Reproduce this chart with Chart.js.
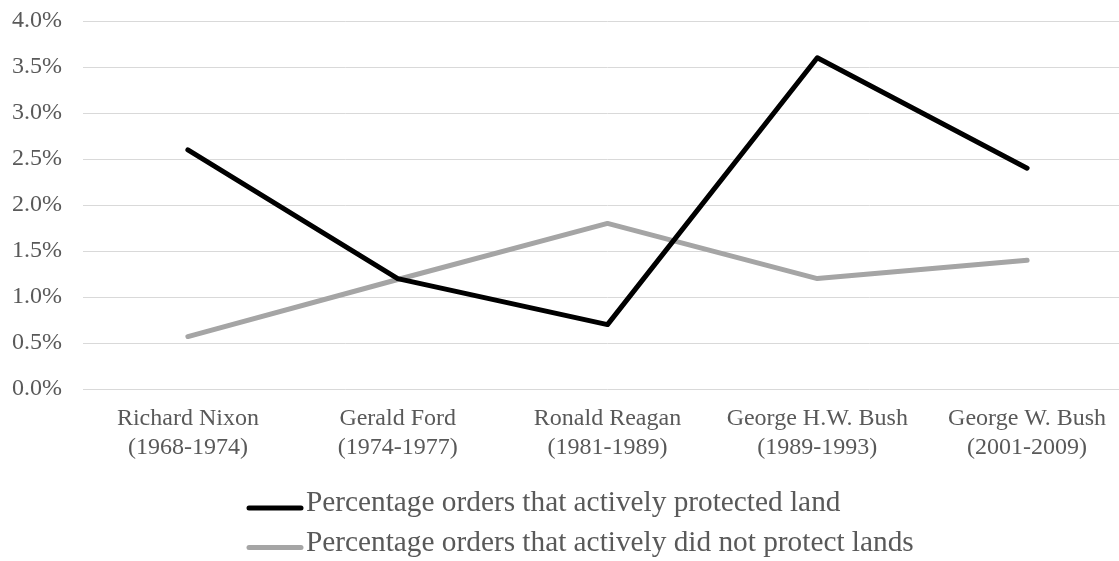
<!DOCTYPE html>
<html>
<head>
<meta charset="utf-8">
<script src="https://cdn.jsdelivr.net/npm/chart.js@4/dist/chart.umd.min.js"></script>
<style>
    html, body { margin: 0; padding: 0; background: #fff; overflow: hidden; }
    #wrap { width: 1132px; height: 561px; }
</style>
</head>
<body>
<div id="wrap"><canvas id="chart" width="1132" height="561"></canvas></div>
<script>
// Data
const presidents = [
    ['Richard Nixon', '(1968-1974)'],
    ['Gerald Ford', '(1974-1977)'],
    ['Ronald Reagan', '(1981-1989)'],
    ['George H.W. Bush', '(1989-1993)'],
    ['George W. Bush', '(2001-2009)']
];
const protectedPct = [2.6, 1.2, 0.7, 3.6, 2.4];
const notProtectedPct = [0.57, 1.19, 1.8, 1.2, 1.4];
const seriesLabels = [
    'Percentage orders that actively protected land',
    'Percentage orders that actively did not protect lands'
];
const yMin = 0;
const yMax = 4;
const yStep = 0.5;

const TEXT_COLOR = '#595959';
const GRID_COLOR = '#D9D9D9';
const FONT_FAMILY = '"Liberation Serif", "Times New Roman", serif';

/**
 * Excel style legend: one row per series, rows left aligned
 */
const stackedLegend = {
    id: 'stackedLegend',
    afterDraw(chart, args, opts) {
        const ctx = chart.ctx;
        ctx.save();
        ctx.font = opts.fontSize + 'px ' + FONT_FAMILY;
        ctx.textBaseline = 'alphabetic';
        ctx.textAlign = 'left';
        chart.data.datasets.forEach((ds, i) => {
            const y = opts.top + i * opts.rowHeight;
            ctx.strokeStyle = ds.borderColor;
            ctx.lineWidth = ds.borderWidth;
            ctx.lineCap = 'round';
            ctx.beginPath();
            ctx.moveTo(opts.left, y);
            ctx.lineTo(opts.left + opts.lineLength, y);
            ctx.stroke();
            ctx.fillStyle = TEXT_COLOR;
            ctx.fillText(ds.label, opts.left + opts.lineLength + opts.gap, y + opts.baselineShift);
        });
        ctx.restore();
    }
};

const el = document.getElementById('chart');
el._chart = new Chart(el.getContext('2d'), {
    type: 'line',
    data: {
        labels: presidents,
        datasets: [
            {
                label: seriesLabels[0],
                data: protectedPct,
                borderColor: '#000000',
                backgroundColor: '#000000',
                borderWidth: 5
            },
            {
                label: seriesLabels[1],
                data: notProtectedPct,
                borderColor: '#A5A5A5',
                backgroundColor: '#A5A5A5',
                borderWidth: 5
            }
        ]
    },
    options: {
        responsive: false,
        animation: false,
        layout: {
            padding: { top: 21, left: 0, right: 0, bottom: 0 }
        },
        elements: {
            point: { radius: 0, hoverRadius: 0 },
            line: { tension: 0, borderCapStyle: 'round', borderJoinStyle: 'round' }
        },
        plugins: {
            legend: { display: false },
            tooltip: { enabled: false },
            stackedLegend: {
                left: 249,
                top: 508,
                rowHeight: 39.5,
                lineLength: 52,
                gap: 5,
                baselineShift: 3,
                fontSize: 29.3
            }
        },
        scales: {
            x: {
                offset: true,
                grid: { display: false, drawTicks: false },
                border: { display: false },
                ticks: {
                    color: TEXT_COLOR,
                    font: { family: FONT_FAMILY, size: 24 },
                    padding: 15.5,
                    maxRotation: 0,
                    autoSkip: false
                },
                afterFit: scale => {
                    scale.height = 172;
                    scale.paddingLeft = 0;
                    scale.paddingRight = 0;
                }
            },
            y: {
                min: yMin,
                max: yMax,
                grid: { color: GRID_COLOR, lineWidth: 1, drawTicks: false },
                border: { display: false },
                ticks: {
                    stepSize: yStep,
                    color: TEXT_COLOR,
                    font: { family: FONT_FAMILY, size: 24 },
                    padding: 21,
                    callback: v => v.toFixed(1) + '%'
                },
                afterFit: scale => {
                    scale.width = 83;
                    scale.paddingTop = 0;
                    scale.paddingBottom = 0;
                }
            }
        }
    },
    plugins: [stackedLegend]
});
</script>
</body>
</html>
